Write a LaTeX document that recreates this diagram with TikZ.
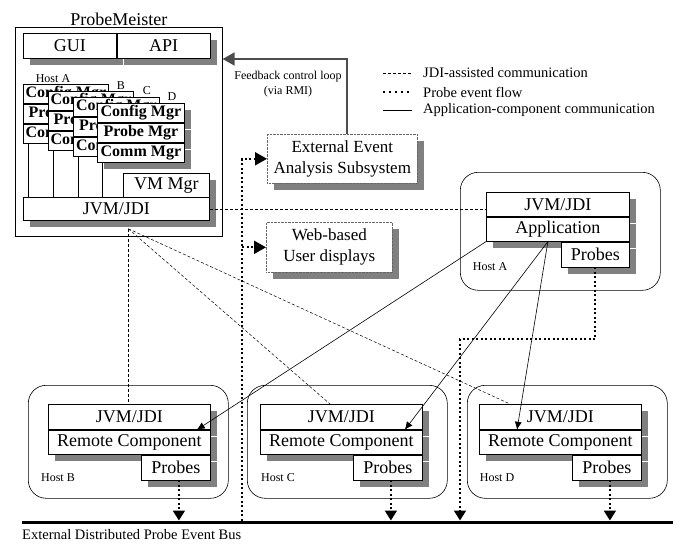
\documentclass[tikz,border=0pt]{standalone}
\usepackage{fontspec}
\setmainfont{Liberation Serif}
\usepackage{tikz}
\usetikzlibrary{calc}
\usetikzlibrary{arrows.meta}
\usetikzlibrary{shadows}
\newcommand*{\bigFont}{\fontsize{18}{20}\selectfont}
\newcommand*{\midFont}{\fontsize{14.5}{17}\selectfont}
\newcommand*{\smallFont}{\fontsize{12}{15}\selectfont}
\tikzset{pmStyle/.style={
    x=1pt, y=-1pt,% pixel grid, y going down
    pmBox/.style={% white box of the architecture
      draw, fill=white, line width=0.8pt, inner sep=0pt,
      anchor=north west, font=\bigFont
    },
    castShadow/.style={drop shadow={shadow xshift=7pt, shadow yshift=-7pt,
        fill=black!50, opacity=1}},
    noShadow/.style={},
    mgrBox/.style={pmBox, minimum height=19pt,
      font=\fontsize{16}{18}\selectfont\bfseries},
    extBox/.style={pmBox, castShadow, draw=black!60, line width=0.6pt,
      dash pattern=on 0.7pt off 0.7pt, align=center,
      font=\fontsize{17}{21}\selectfont},
    hostFrame/.style={draw, rounded corners=18pt, line width=0.6pt,
      inner sep=0pt, anchor=north west},
    hostLabel/.style={font=\smallFont, inner sep=0pt},
    jdiLink/.style={line width=0.5pt, dash pattern=on 3pt off 2pt},
    appLink/.style={line width=0.6pt, -{Latex[length=8pt,width=7pt]}},
    dotLine/.style={line width=2pt, dash pattern=on 2pt off 2.5pt},
    probeFlow/.style={dotLine, -{Triangle[width=12pt,length=10pt]}}
  }
}

\begin{document}
\begin{tikzpicture}[pmStyle]
    \useasboundingbox (0,0) rectangle (678,544);
    % ProbeMeister
    \node[draw, line width=0.6pt, inner sep=0pt, anchor=north west,
      minimum width=207pt, minimum height=209pt] (pm) at (15,27) {};
    \node[anchor=south, font=\bigFont, inner sep=1pt] (pmTitle) at (pm.north) {ProbeMeister};
    \node[pmBox, castShadow, minimum width=93pt, minimum height=25pt] (gui) at (23,33) {GUI};
    \node[pmBox, castShadow, minimum width=93pt, minimum height=25pt] (api) at (gui.north east) {API};
    \node[pmBox, castShadow, minimum width=86pt, minimum height=24pt] (vmMgr) at (123,173) {VM Mgr};
    \node[pmBox, castShadow, minimum width=186pt, minimum height=23pt] (jvmPM) at (23,197) {JVM/JDI};
    \node[hostLabel] (pmHostA) at (53,79) {Host A};
    \node[hostLabel] (pmHostB) at (121,86) {B};
    \node[hostLabel] (pmHostC) at (147,91) {C};
    \node[hostLabel] (pmHostD) at (172,97) {D};
    \foreach \h/\x/\y/\w/\s in {A/23/84/85/noShadow, B/48/91/85/noShadow,
        C/73/97/86/noShadow, D/97/103/87/castShadow} {
        \node[mgrBox, \s, minimum width=\w pt] (cfg\h) at (\x,\y) {Config Mgr};
        \node[mgrBox, \s, minimum width=\w pt] (prb\h) at (cfg\h.south west) {Probe Mgr};
        \node[mgrBox, \s, minimum width=\w pt] (com\h) at (prb\h.south west) {Comm Mgr};
        \draw[line width=0.6pt] ([xshift=5.5pt]com\h.south west)
          -- ([xshift=5.5pt]com\h.south west |- jvmPM.north);
    }

    % feedback and external subsystems
    \node[extBox, minimum width=150pt, minimum height=49pt] (ext) at (267,134)
      {External Event\\Analysis Subsystem};
    \node[extBox, minimum width=126pt, minimum height=50pt] (web) at (266,222)
      {Web-based\\User displays};
    \coordinate (fbTurn) at (0,59);
    \draw[line width=1.8pt, draw=black!70, -{Triangle[width=13pt,length=12pt]}]
      ([xshift=5pt]ext.north) |- (pm.east |- fbTurn);
    \node[font=\smallFont, align=center, inner sep=0pt] (fbLabel) at (288,84)
      {Feedback control loop\\(via RMI)};

    % legend
    \node[anchor=west, font=\midFont, inner sep=0pt] (lgJdi) at (423,73) {JDI-assisted communication};
    \node[anchor=west, font=\midFont, inner sep=0pt] (lgProbe) at (423,92) {Probe event flow};
    \node[anchor=west, font=\midFont, inner sep=0pt] (lgApp) at (423,110) {Application-component communication};
    \draw[jdiLink] ([xshift=-40pt]lgJdi.west) -- ([xshift=-11pt]lgJdi.west);
    \draw[dotLine, dash pattern=on 2pt off 4pt] ([xshift=-40pt]lgProbe.west) -- ([xshift=-11pt]lgProbe.west);
    \draw[line width=0.5pt] ([xshift=-40pt]lgApp.west) -- ([xshift=-11pt]lgApp.west);

    % event bus
    \node[fill, inner sep=0pt, anchor=north west, minimum width=651pt,
      minimum height=3.5pt] (bus) at (22,520.5) {};
    \node[anchor=west, font=\midFont, inner sep=0pt] (busLabel) at (22,535)
      {External Distributed Probe Event Bus};

    % host A
    \node[hostFrame, minimum width=200pt, minimum height=118pt] (hostA) at (460,172) {};
    \node[pmBox, castShadow, minimum width=143pt, minimum height=24pt] (jvmA) at (486,192) {JVM/JDI};
    \node[pmBox, castShadow, minimum width=143pt, minimum height=24pt] (appA) at (jvmA.south west) {Application};
    \node[pmBox, castShadow, anchor=north east, minimum width=68pt, minimum height=25pt]
      (prbA) at (appA.south east) {Probes};
    \node[hostLabel] (lblA) at (490,267) {Host A};

    % remote hosts
    \foreach \h/\fx/\bx/\lx in {B/28/48/58, C/247/260/278, D/467/479/497} {
        \node[hostFrame, minimum width=200pt, minimum height=113pt] (host\h) at (\fx,385) {};
        \node[pmBox, castShadow, minimum width=162pt, minimum height=25pt] (jvm\h) at (\bx,404) {JVM/JDI};
        \node[pmBox, castShadow, minimum width=162pt, minimum height=24pt] (rem\h) at (jvm\h.south west)
          {Remote Component};
        \node[pmBox, castShadow, anchor=north east, minimum width=69pt, minimum height=25pt]
          (prb\h) at (rem\h.south east) {Probes};
        \node[hostLabel] (lbl\h) at (\lx,478) {Host \h};
        \draw[probeFlow] ([xshift=3pt]prb\h.south) -- ([xshift=3pt]prb\h.south |- bus.north);
    }

    % probe event flow
    \coordinate (merge) at (460,339);
    \draw[probeFlow] (prbA.south) |- (merge) -- (merge |- bus.north);
    \coordinate (spine) at ([xshift=-25pt]ext.west);
    \draw[probeFlow, -{Triangle[width=13pt,length=12pt]}] (spine |- bus.north) -- (spine) -- (ext.west);
    \draw[probeFlow, -{Triangle[width=13pt,length=12pt]}] (spine |- web.west) -- (web.west);

    % JDI-assisted communication
    \coordinate (jdiHub) at ([xshift=12pt,yshift=-8pt]jvmPM.south);
    \draw[jdiLink] (jvmPM.east) -- (jvmPM.east -| jvmA.west);
    \draw[jdiLink] (jdiHub) -- (jdiHub |- jvmB.north);
    \draw[jdiLink] (jdiHub) -- ([xshift=70pt]jvmC.north west);
    \draw[jdiLink] (jdiHub) -- ([xshift=31pt]jvmD.north west);

    % application-component communication
    \draw[appLink] (appA.south west) -- ([xshift=-14pt]jvmB.south east);
    \draw[appLink] ([xshift=-10pt]appA.south) -- ([xshift=-18pt]jvmC.south east);
    \draw[appLink] ([xshift=-10pt]appA.south) -- ([xshift=38pt]jvmD.south west);
\end{tikzpicture}
\end{document}
